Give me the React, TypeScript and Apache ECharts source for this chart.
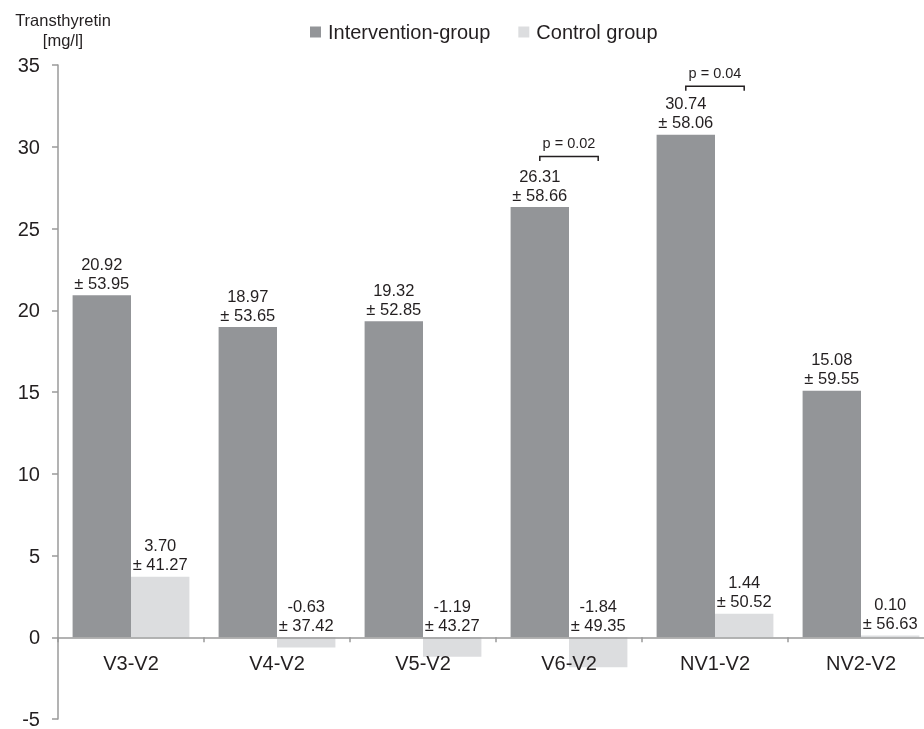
import React, { useEffect, useRef } from "react";
import * as echarts from "echarts";

// Change in transthyretin relative to V2, mean ± SD per visit pair
const categories = ["V3-V2", "V4-V2", "V5-V2", "V6-V2", "NV1-V2", "NV2-V2"];
const interventionMean = [20.92, 18.97, 19.32, 26.31, 30.74, 15.08];
const interventionSD = [53.95, 53.65, 52.85, 58.66, 58.06, 59.55];
const controlMean = [3.7, -0.63, -1.19, -1.84, 1.44, 0.1];
const controlSD = [41.27, 37.42, 43.27, 49.35, 50.52, 56.63];

// Significance brackets between the two groups
const pCategoryIndex = [3, 4];
const pBracketLevel = [29.4, 33.7];
const pLabels = ["p = 0.02", "p = 0.04"];

const yTicks = { min: -5, max: 35, interval: 5 };

const FONT = "'Liberation Sans', Arial, Helvetica, sans-serif";
const TEXT = "#231f20";
const AXIS = "#9a9a9a";
const INTERVENTION = "#939598";
const CONTROL = "#dcdddf";

export default function App() {
  const ref = useRef<HTMLDivElement>(null);

  useEffect(() => {
    if (!ref.current) return;
    const chart = echarts.init(ref.current, undefined, { renderer: "svg" });

    const labelFmt = (means: number[], sds: number[]) => (p: any) =>
      `${means[p.dataIndex].toFixed(2)}\n± ${sds[p.dataIndex].toFixed(2)}`;

    const barLabel = (means: number[], sds: number[]) => ({
      show: true,
      position: "top",
      distance: 3,
      color: TEXT,
      fontFamily: FONT,
      fontSize: 16.5,
      lineHeight: 19,
      formatter: labelFmt(means, sds),
    });

    chart.setOption({
      animation: false,
      textStyle: { fontFamily: FONT, color: TEXT },
      title: {
        text: "Transthyretin\n[mg/l]",
        left: 58,
        top: 5,
        textAlign: "center",
        textStyle: {
          fontFamily: FONT,
          fontSize: 16.5,
          fontWeight: "normal",
          color: TEXT,
          lineHeight: 20,
        },
      },
      legend: {
        data: ["Intervention-group", "Control group"],
        left: 305,
        top: 17,
        icon: "rect",
        itemWidth: 11,
        itemHeight: 11,
        itemGap: 28,
        textStyle: {
          fontFamily: FONT,
          fontSize: 20,
          color: TEXT,
          padding: [0, 0, 0, 2],
        },
      },
      grid: {
        left: 58,
        right: -10,
        top: 65,
        bottom: 10,
        containLabel: false,
        outerBoundsMode: "none",
      },
      xAxis: {
        type: "category",
        data: categories,
        position: "bottom",
        z: 10,
        axisLine: { onZero: false, lineStyle: { color: AXIS, width: 1.5 } },
        axisTick: { show: true, length: 5, lineStyle: { color: AXIS, width: 1.5 } },
        axisLabel: {
          margin: 16,
          fontFamily: FONT,
          fontSize: 20,
          color: TEXT,
        },
      },
      yAxis: {
        type: "value",
        min: yTicks.min,
        max: yTicks.max,
        interval: yTicks.interval,
        splitLine: { show: false },
        axisLine: { show: true, lineStyle: { color: AXIS, width: 1.5 } },
        axisTick: { show: true, length: 6, lineStyle: { color: AXIS, width: 1.5 } },
        axisLabel: {
          margin: 18,
          fontFamily: FONT,
          fontSize: 20,
          color: TEXT,
        },
      },
      series: [
        {
          name: "Intervention-group",
          type: "bar",
          data: interventionMean,
          barGap: "0%",
          barCategoryGap: "20%",
          itemStyle: { color: INTERVENTION },
          label: barLabel(interventionMean, interventionSD),
        },
        {
          name: "Control group",
          type: "bar",
          data: controlMean,
          barGap: "0%",
          barCategoryGap: "20%",
          itemStyle: { color: CONTROL },
          label: barLabel(controlMean, controlSD),
        },
        {
          name: "significance",
          type: "custom",
          data: pCategoryIndex.map((c, i) => [c, pBracketLevel[i]]),
          renderItem: (params: any, api: any) => {
            const pt = api.coord([api.value(0), api.value(1)]);
            const band = api.size([1, 0])[0];
            const x1 = pt[0] - 0.2 * band;
            const x2 = pt[0] + 0.2 * band;
            const y = pt[1];
            return {
              type: "group",
              children: [
                {
                  type: "polyline",
                  shape: {
                    points: [
                      [x1, y + 4.5],
                      [x1, y],
                      [x2, y],
                      [x2, y + 4.5],
                    ],
                  },
                  style: { stroke: "#231f20", lineWidth: 1.5, fill: null },
                },
                {
                  type: "text",
                  x: pt[0],
                  y: y - 6,
                  style: {
                    text: pLabels[params.dataIndex],
                    fill: TEXT,
                    font: `14.5px ${FONT}`,
                    align: "center",
                    verticalAlign: "bottom",
                  },
                },
              ],
            };
          },
          z: 5,
        },
      ],
    });

    // Lift the category axis (line, ticks and labels) up to the y = 0 level
    const zeroY = chart.convertToPixel({ yAxisIndex: 0 }, 0) as number;
    const floorY = chart.convertToPixel({ yAxisIndex: 0 }, yTicks.min) as number;
    chart.setOption({ xAxis: { offset: zeroY - floorY } });

    return () => chart.dispose();
  }, []);

  return (
    <div
      ref={ref}
      style={{ position: "fixed", left: 0, top: 0, width: 924, height: 729 }}
    />
  );
}
